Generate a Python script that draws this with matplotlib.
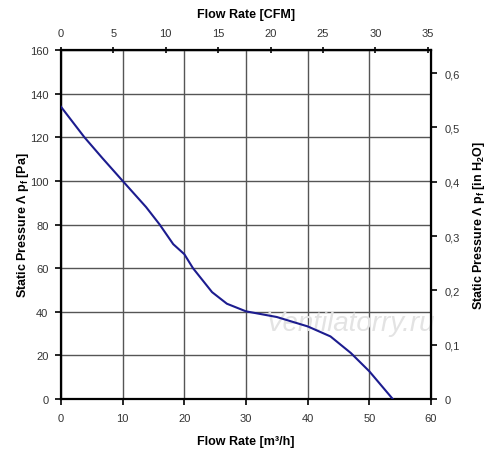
#!/usr/bin/env python3
import matplotlib
matplotlib.use("Agg")
import matplotlib.pyplot as plt
from matplotlib.ticker import FuncFormatter

# fan curve
flow_m3h = [0, 3.8, 6.7, 10, 13.8, 16, 18.2, 20, 21.4, 24.5, 26.9, 30,
            35, 40, 43.7, 47, 50, 53.8]
pressure_pa = [134, 120, 110.5, 100, 88, 80, 71, 66.4, 60, 49, 43.7, 40.2,
               37.6, 33.3, 28.7, 21.1, 12.7, 0]

m3h_ticks = [0, 10, 20, 30, 40, 50, 60]
pa_ticks = [0, 20, 40, 60, 80, 100, 120, 140, 160]
cfm_ticks = [0, 5, 10, 15, 20, 25, 30, 35]
inh2o_ticks = [0, 0.1, 0.2, 0.3, 0.4, 0.5, 0.6]

M3H_PER_CFM = 1.699
PA_PER_INH2O = 249.0

plt.rcParams["font.family"] = ["Liberation Sans", "DejaVu Sans"]

fig = plt.figure(figsize=(5, 4.52), dpi=100)
ax = fig.add_axes([0.122, 0.115, 0.74, 0.772])

ax.plot(flow_m3h, pressure_pa, color="#1c1c8f", linewidth=1.5, zorder=3)

ax.set_xlim(0, 60)
ax.set_ylim(0, 160)
ax.set_xticks(m3h_ticks)
ax.set_yticks(pa_ticks)
ax.grid(True, color="#555555", linewidth=1.0)
for s in ax.spines.values():
    s.set_linewidth(1.6)
    s.set_color("black")
ax.tick_params(axis="both", direction="out", length=4, width=1.2,
               labelsize=8, labelcolor="#333333")
ax.tick_params(axis="x", pad=6)
ax.tick_params(axis="y", pad=5)

ax.set_xlabel("Flow Rate [m³/h]", fontsize=9, fontweight="bold", labelpad=9)
ax.set_ylabel("Static Pressure Λ p$_\\mathregular{f}$ [Pa]", fontsize=9,
              fontweight="bold", labelpad=-1)

top = ax.secondary_xaxis("top", functions=(lambda x: x / M3H_PER_CFM,
                                           lambda c: c * M3H_PER_CFM))
top.set_xticks(cfm_ticks)
top.tick_params(direction="inout", length=5, width=1.2, labelsize=8,
                labelcolor="#333333", pad=6)
top.set_xlabel("Flow Rate [CFM]", fontsize=9, fontweight="bold", labelpad=8)

right = ax.secondary_yaxis("right", functions=(lambda p: p / PA_PER_INH2O,
                                               lambda h: h * PA_PER_INH2O))
right.set_yticks(inh2o_ticks)
right.yaxis.set_major_formatter(
    FuncFormatter(lambda v, pos: "0" if v == 0 else f"{v:.1f}".replace(".", ",")))
right.tick_params(direction="out", length=4, width=1.2, labelsize=8,
                  labelcolor="#333333", pad=6)
right.set_ylabel("Static Pressure Λ p$_\\mathregular{f}$ [in H$_\\mathregular{2}$O]",
                 fontsize=9, fontweight="bold", labelpad=8)

# faint watermark
ax.text(47, 35, "Ventilatorry.ru", fontsize=20, style="italic",
        color="#e3e3e3", ha="center", va="center", zorder=2)

fig.savefig("out.png", dpi=100)
